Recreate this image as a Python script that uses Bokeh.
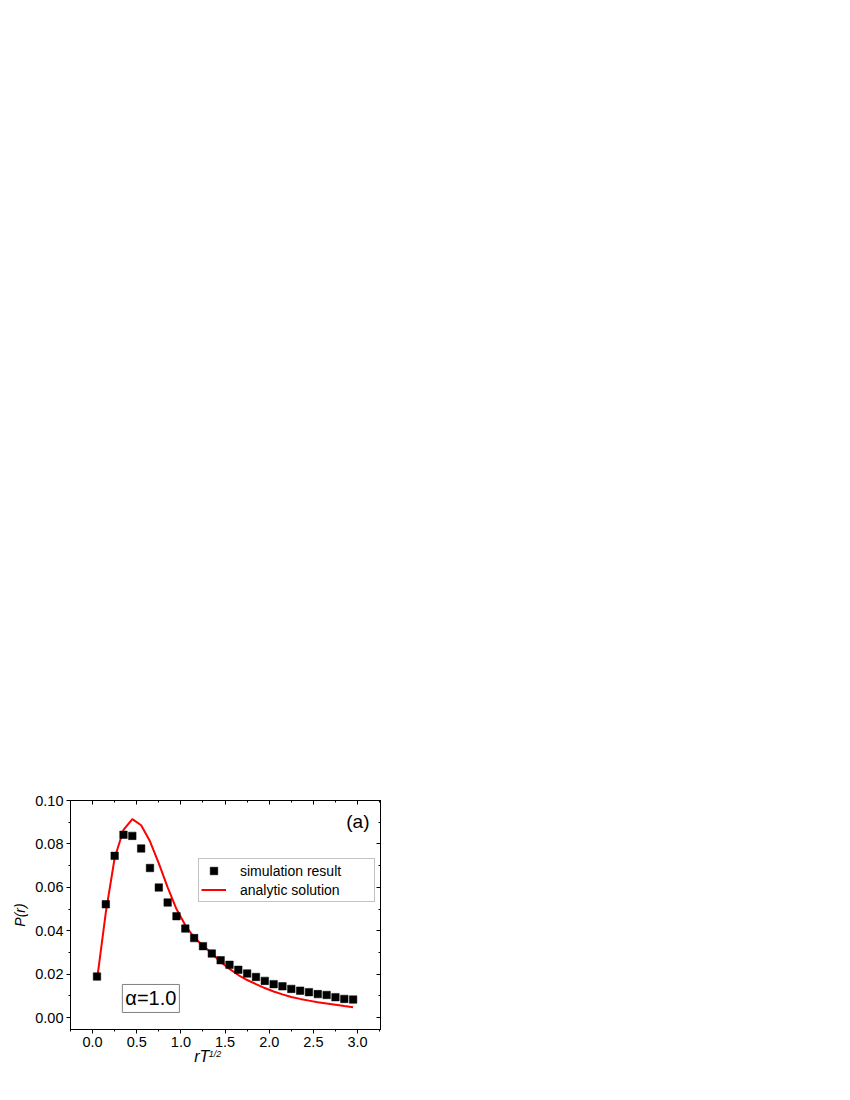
from bokeh.plotting import figure
from bokeh.models import (Range1d, LinearAxis, SingleIntervalTicker, NumeralTickFormatter, FixedTicker,
                          CustomJSTickFormatter, Legend, LegendItem, Label, ColumnDataSource)
from bokeh.embed import file_html
from bokeh.resources import INLINE

# ---- data ----
sim_x = [0.05, 0.15, 0.25, 0.35, 0.45, 0.55, 0.65, 0.75, 0.85, 0.95,
         1.05, 1.15, 1.25, 1.35, 1.45, 1.55, 1.65, 1.75, 1.85, 1.95,
         2.05, 2.15, 2.25, 2.35, 2.45, 2.55, 2.65, 2.75, 2.85, 2.95]
sim_y = [0.0189, 0.0522, 0.0745, 0.0842, 0.0837, 0.0779, 0.0689, 0.0599, 0.0530, 0.0467,
         0.0410, 0.0366, 0.0329, 0.0295, 0.0264, 0.0243, 0.0220, 0.0203, 0.0187, 0.0169,
         0.0154, 0.0144, 0.0132, 0.0124, 0.0117, 0.0108, 0.0104, 0.0094, 0.0086, 0.0083]
ana_x = [0.05, 0.15, 0.25, 0.35, 0.45, 0.55, 0.65, 0.75, 0.85, 0.95,
         1.05, 1.15, 1.25, 1.35, 1.45, 1.55, 1.65, 1.75, 1.85, 1.95,
         2.05, 2.15, 2.25, 2.35, 2.45, 2.55, 2.65, 2.75, 2.85, 2.95]
ana_y = [0.0172, 0.0485, 0.0735, 0.0865, 0.0914, 0.0886, 0.0812, 0.0710, 0.0600, 0.0500,
         0.0425, 0.0369, 0.0331, 0.0296, 0.0256, 0.0224, 0.0196, 0.0173, 0.0154, 0.0136,
         0.0120, 0.0107, 0.0095, 0.0086, 0.0078, 0.0071, 0.0065, 0.0059, 0.0053, 0.0048]
series_names = ["simulation result", "analytic solution"]
panel_tag = "(a)"
alpha_text = "\u03b1=1.0"
x_title = "rT"
x_title_sup = "1/2"
y_title = "P(r)"

FONT = "Liberation Sans"

p = figure(frame_width=310, frame_height=229,
           min_border_left=70, min_border_top=800, min_border_bottom=51, min_border_right=10,
           x_range=Range1d(-0.25, 3.26), y_range=Range1d(-0.0055, 0.10),
           output_backend="svg", toolbar_location=None,
           background_fill_color="white", border_fill_color="white")
p.grid.visible = False
p.outline_line_color = "black"
p.outline_line_width = 1

xt = SingleIntervalTicker(interval=0.5, num_minor_ticks=2)
yt = SingleIntervalTicker(interval=0.02, num_minor_ticks=2)

def style_axis(ax, ticker, fmt, inward=False, labels=True):
    ax.ticker = ticker
    ax.formatter = fmt
    ax.axis_line_color = "black"
    ax.major_tick_line_color = "black"
    ax.minor_tick_line_color = "black"
    if inward:
        ax.major_tick_in, ax.major_tick_out = 4, 0
        ax.minor_tick_in, ax.minor_tick_out = 2, 0
    else:
        ax.major_tick_in, ax.major_tick_out = 0, 4
        ax.minor_tick_in, ax.minor_tick_out = 0, 2
    ax.major_label_text_font = FONT
    ax.major_label_text_font_size = "14.5px"
    ax.major_label_text_color = "black"
    ax.major_label_standoff = 3
    if not labels:
        ax.major_label_text_font_size = "0px"
        ax.major_label_text_alpha = 0

xfmt = NumeralTickFormatter(format="0.0")
yfmt = NumeralTickFormatter(format="0.00")
style_axis(p.xaxis[0], xt, xfmt)
style_axis(p.yaxis[0], yt, yfmt)
p.yaxis[0].axis_label = y_title
p.yaxis[0].axis_label_text_font = FONT
p.yaxis[0].axis_label_text_font_size = "14px"
p.yaxis[0].axis_label_text_font_style = "italic"
p.yaxis[0].axis_label_text_color = "black"
p.yaxis[0].axis_label_standoff = 4

top = LinearAxis()
style_axis(top, SingleIntervalTicker(interval=0.5, num_minor_ticks=2), xfmt, inward=True, labels=False)
p.add_layout(top, "above")
right = LinearAxis()
style_axis(right, SingleIntervalTicker(interval=0.02, num_minor_ticks=2), yfmt, inward=True, labels=False)
p.add_layout(right, "right")

# x-axis title "rT" with superscript "1/2", drawn as label-only axes below the main axis
def title_axis(text, pos, size, standoff):
    ax = LinearAxis(ticker=FixedTicker(ticks=[pos], minor_ticks=[]),
                    formatter=CustomJSTickFormatter(args=dict(t=text), code="return t"))
    ax.axis_line_color = None
    ax.major_tick_line_color = None
    ax.minor_tick_line_color = None
    ax.major_tick_in = ax.major_tick_out = 0
    ax.minor_tick_in = ax.minor_tick_out = 0
    ax.major_label_text_font = FONT
    ax.major_label_text_font_size = size
    ax.major_label_text_font_style = "italic"
    ax.major_label_text_color = "black"
    ax.major_label_standoff = standoff
    return ax

p.add_layout(title_axis(x_title, 1.236, "16px", -2), "below")
p.add_layout(title_axis(x_title_sup, 1.386, "9px", -19), "below")

src_sim = ColumnDataSource(dict(x=sim_x, y=sim_y))
src_ana = ColumnDataSource(dict(x=ana_x, y=ana_y))
r_line = p.line("x", "y", source=src_ana, line_color="#ff0000", line_width=2)
r_sim = p.scatter("x", "y", source=src_sim, marker="square", size=7.5,
                  fill_color="black", line_color="black", line_width=0.5)

legend = Legend(items=[LegendItem(label=series_names[0], renderers=[r_sim]),
                       LegendItem(label=series_names[1], renderers=[r_line])],
                location=(128, 127), orientation="vertical",
                border_line_color="#888888", border_line_width=1,
                background_fill_color="white", background_fill_alpha=1,
                padding=2, spacing=0, margin=0,
                glyph_width=25, glyph_height=19, label_height=19, label_width=132,
                label_standoff=14,
                label_text_font=FONT, label_text_font_size="14px", label_text_color="black")
p.add_layout(legend, "center")

p.add_layout(Label(x=3.135, y=0.0903, text=panel_tag, text_align="right", text_baseline="middle",
                   text_font=FONT, text_font_size="19px", text_color="black"))
p.add_layout(Label(x=0.66, y=0.0088, text=alpha_text, text_align="center", text_baseline="middle",
                   text_font=FONT, text_font_size="20px", text_color="black",
                   border_line_color="#808080", border_line_width=1,
                   background_fill_color="white", padding=3))

open("out.html", "w").write(file_html(p, INLINE))
